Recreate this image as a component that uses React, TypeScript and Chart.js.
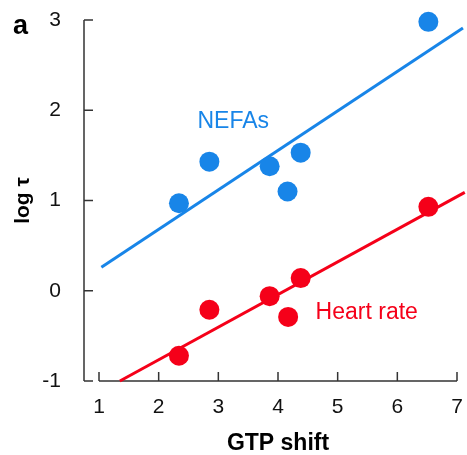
import React, { useEffect, useRef } from "react";
import { Chart, registerables } from "chart.js";

Chart.register(...registerables);

// Data
const nefaX = [2.34, 2.85, 3.86, 4.16, 4.38, 6.52];
const nefaY = [0.97, 1.43, 1.38, 1.1, 1.53, 2.98];
const hrX = [2.34, 2.85, 3.86, 4.17, 4.38, 6.52];
const hrY = [-0.72, -0.21, -0.06, -0.29, 0.14, 0.93];
const nefaFitX = [1.04, 7.1];
const nefaFitY = [0.26, 2.91];
const hrFitX = [1.35, 7.13];
const hrFitY = [-1.0, 1.09];
const xTicks = [1, 2, 3, 4, 5, 6, 7];
const yTicks = [-1, 0, 1, 2, 3];

const BLUE = "rgb(24,133,232)";
const RED = "rgb(245,0,25)";
const FONT = "'Liberation Sans', Arial, Helvetica, sans-serif";

const zip = (xs: number[], ys: number[]) => xs.map((x, i) => ({ x, y: ys[i] }));

const axesPlugin = {
  id: "customAxes",
  beforeDatasetsDraw(chart: any) {
    const { ctx, chartArea, scales } = chart;
    const x = scales.x;
    const y = scales.y;
    ctx.save();
    ctx.strokeStyle = "#333";
    ctx.lineWidth = 1.5;
    ctx.beginPath();
    const ax = chartArea.left - 15;
    ctx.moveTo(ax, y.getPixelForValue(yTicks[yTicks.length - 1]));
    ctx.lineTo(ax, y.getPixelForValue(yTicks[0]));
    yTicks.forEach((v) => {
      const py = y.getPixelForValue(v);
      ctx.moveTo(ax, py);
      ctx.lineTo(ax + 9, py);
    });
    const by = chartArea.bottom;
    ctx.moveTo(x.getPixelForValue(xTicks[0]), by);
    ctx.lineTo(x.getPixelForValue(xTicks[xTicks.length - 1]), by);
    xTicks.forEach((v) => {
      const px = x.getPixelForValue(v);
      ctx.moveTo(px, by);
      ctx.lineTo(px, by - 9);
    });
    ctx.stroke();

    // annotations
    ctx.textBaseline = "alphabetic";
    ctx.textAlign = "left";
    ctx.font = `23px ${FONT}`;
    ctx.fillStyle = BLUE;
    ctx.fillText("NEFAs", x.getPixelForValue(2.65), y.getPixelForValue(1.8));
    ctx.fillStyle = RED;
    ctx.fillText("Heart rate", x.getPixelForValue(4.63), y.getPixelForValue(-0.31));

    // panel label
    ctx.fillStyle = "#000";
    ctx.font = `bold 27px ${FONT}`;
    ctx.fillText("a", 13, 34);
    ctx.restore();
  },
};

export default function App() {
  const ref = useRef<HTMLCanvasElement>(null);
  useEffect(() => {
    if (!ref.current) return;
    const chart = new Chart(ref.current, {
      type: "scatter",
      data: {
        datasets: [
          {
            label: "NEFAs",
            data: zip(nefaX, nefaY),
            pointRadius: 10,
            pointBackgroundColor: BLUE,
            pointBorderWidth: 0,
            borderWidth: 0,
            clip: false,
          } as any,
          {
            label: "Heart rate",
            data: zip(hrX, hrY),
            pointRadius: 10,
            pointBackgroundColor: RED,
            pointBorderWidth: 0,
            borderWidth: 0,
            clip: false,
          } as any,
          {
            type: "line",
            label: "NEFAs fit",
            data: zip(nefaFitX, nefaFitY),
            borderColor: BLUE,
            borderWidth: 3,
            pointRadius: 0,
            showLine: true,
            clip: false,
            fill: false,
          } as any,
          {
            type: "line",
            label: "Heart rate fit",
            data: zip(hrFitX, hrFitY),
            borderColor: RED,
            borderWidth: 3,
            pointRadius: 0,
            showLine: true,
            clip: false,
            fill: false,
          } as any,
        ],
      },
      options: {
        responsive: false,
        animation: false,
        devicePixelRatio: 1,
        layout: { padding: { top: 20, right: 8, left: 0, bottom: 0 } },
        plugins: { legend: { display: false }, tooltip: { enabled: false } },
        scales: {
          x: {
            type: "linear",
            min: 1,
            max: 7,
            grid: { display: false },
            border: { display: false },
            ticks: {
              stepSize: 1,
              padding: 6,
              maxRotation: 0,
              autoSkip: false,
              color: "#111",
              font: { family: FONT, size: 21 },
            },
            title: {
              display: true,
              text: "GTP shift",
              color: "#000",
              font: { family: FONT, size: 23, weight: "bold", lineHeight: 1 },
              padding: { top: 0, bottom: 0 },
            },
            afterFit: (s: any) => {
              s.height = 74;
              s.paddingLeft = 0;
              s.paddingRight = 0;
              s.paddingTop = 0;
              s.paddingBottom = 0;
            },
          },
          y: {
            type: "linear",
            min: -1,
            max: 3,
            grid: { display: false },
            border: { display: false },
            ticks: {
              stepSize: 1,
              padding: 30,
              color: "#111",
              font: { family: FONT, size: 21 },
            },
            title: {
              display: true,
              text: "log τ",
              color: "#000",
              font: { family: FONT, size: 21, weight: "bold", lineHeight: 1 },
              padding: { top: 13, bottom: 0 },
            },
            afterFit: (s: any) => {
              s.width = 99;
              s.paddingLeft = 0;
              s.paddingRight = 0;
              s.paddingTop = 0;
              s.paddingBottom = 0;
            },
          },
        },
      },
      plugins: [axesPlugin],
    });
    return () => chart.destroy();
  }, []);
  return (
    <div style={{ position: "absolute", left: 0, top: 0, width: 467, height: 455, background: "#fff" }}>
      <canvas ref={ref} width={467} height={455} style={{ width: 467, height: 455, display: "block" }} />
    </div>
  );
}
